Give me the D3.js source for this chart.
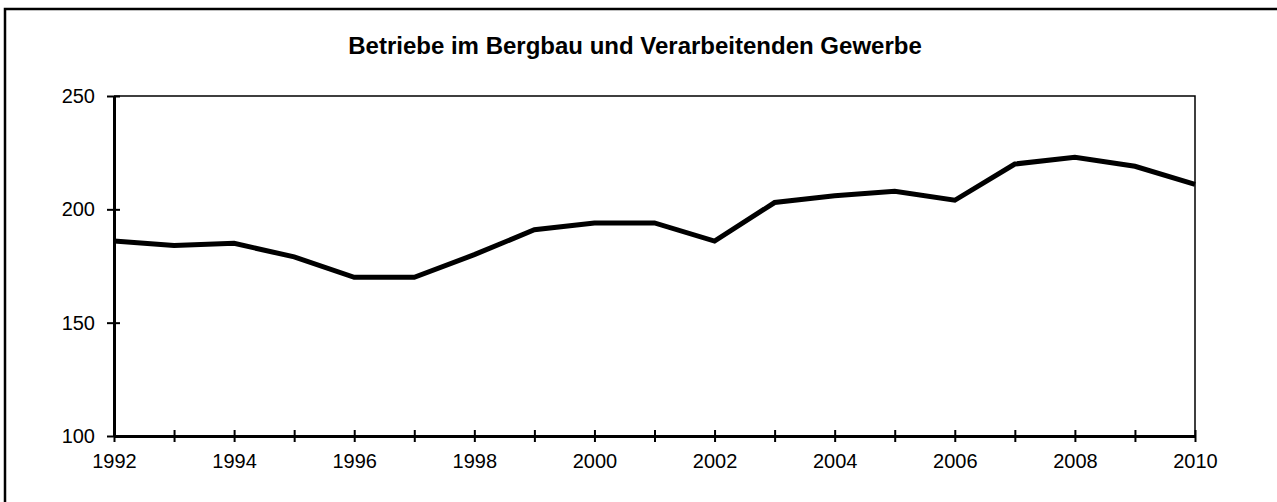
<!DOCTYPE html>
<html>
<head>
<meta charset="utf-8">
<script src="https://cdn.jsdelivr.net/npm/d3@7"></script>
<style>
  body { margin: 0; background: #fff; overflow: hidden; }
  svg { display: block; font-family: "Liberation Sans", Arial, sans-serif; }
</style>
</head>
<body>
<script>
const title = "Betriebe im Bergbau und Verarbeitenden Gewerbe";
const years = [1992, 1993, 1994, 1995, 1996, 1997, 1998, 1999, 2000, 2001,
               2002, 2003, 2004, 2005, 2006, 2007, 2008, 2009, 2010];
const betriebe = [186, 184, 185, 179, 170, 170, 180, 191, 194, 194,
                  186, 203, 206, 208, 204, 220, 223, 219, 211];
const yTicks = [100, 150, 200, 250];
const xLabels = [1992, 1994, 1996, 1998, 2000, 2002, 2004, 2006, 2008, 2010];

const width = 1277;
const height = 502;
const margin = {top: 96, right: 82, bottom: 66, left: 114};

const svg = d3.select("body").append("svg")
  .attr("width", width)
  .attr("height", height);

// outer frame (right and bottom edges fall outside the picture)
svg.append("rect")
  .attr("x", 5).attr("y", 9)
  .attr("width", 1400).attr("height", 700)
  .attr("fill", "none")
  .attr("stroke", "#000")
  .attr("stroke-width", 2.5);

svg.append("text")
  .attr("x", 635)
  .attr("y", 54)
  .attr("text-anchor", "middle")
  .style("font-size", "24px")
  .style("font-weight", "bold")
  .text(title);

const x = d3.scaleLinear()
  .domain([1992, 2010])
  .range([margin.left, width - margin.right]);

const y = d3.scaleLinear()
  .domain([100, 250])
  .range([height - margin.bottom, margin.top]);

// thin top and right border of the plot area
svg.append("path")
  .attr("d", `M${x(1992)},${y(250)}H${x(2010)}V${y(100)}`)
  .attr("fill", "none")
  .attr("stroke", "#000")
  .attr("stroke-width", 1.5);

const yAxis = svg.append("g")
  .attr("transform", `translate(${margin.left},0)`)
  .call(d3.axisLeft(y).tickValues(yTicks).tickSize(7).tickPadding(12).tickSizeOuter(0));

const xAxis = svg.append("g")
  .attr("transform", `translate(0,${height - margin.bottom})`)
  .call(d3.axisBottom(x).tickValues(years).tickSize(6).tickPadding(12).tickSizeOuter(0)
    .tickFormat(d => xLabels.includes(d) ? d : ""));

yAxis.select(".domain").attr("stroke-width", 3);
xAxis.select(".domain").attr("stroke-width", 3);
yAxis.selectAll(".tick line").attr("x1", 6).attr("stroke-width", 2);
xAxis.selectAll(".tick line").attr("y1", -6).attr("stroke-width", 2);

svg.selectAll(".tick text")
  .attr("fill", "#000")
  .style("font-size", "20px")
  .style("font-family", "'Liberation Sans', Arial, sans-serif");
xAxis.selectAll(".tick text").attr("dy", "0.71em");

const line = d3.line()
  .x((d, i) => x(years[i]))
  .y(d => y(d));

svg.append("path")
  .datum(betriebe)
  .attr("d", line)
  .attr("fill", "none")
  .attr("stroke", "#000")
  .attr("stroke-width", 5)
  .attr("stroke-linejoin", "miter");
</script>
</body>
</html>
